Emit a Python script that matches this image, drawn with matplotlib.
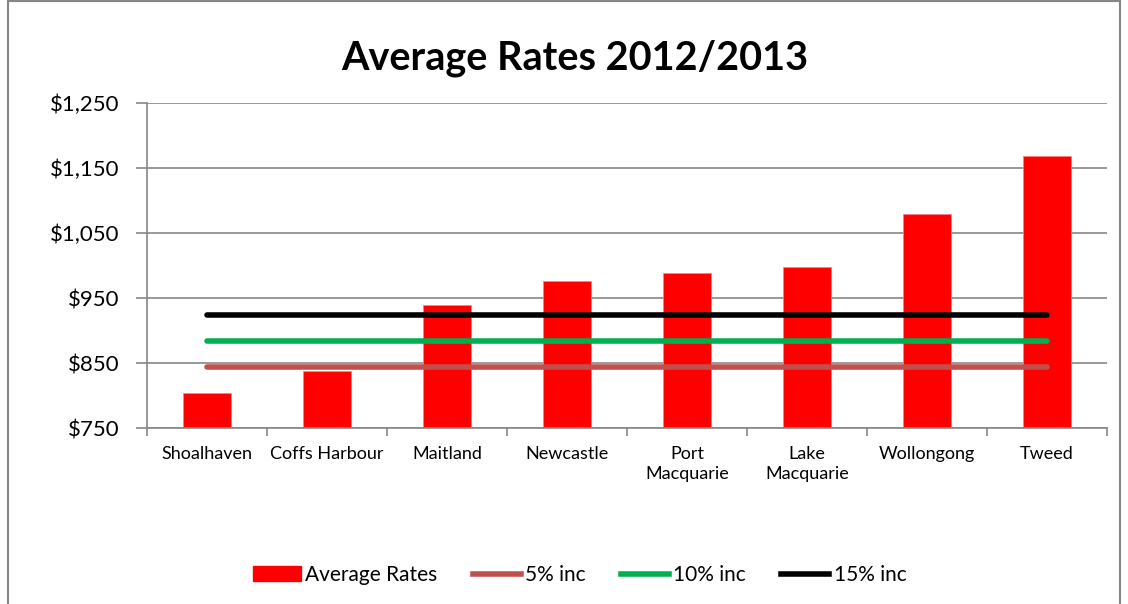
import numpy as np
import matplotlib.pyplot as plt
from matplotlib.patches import Rectangle, Patch
from matplotlib.lines import Line2D
from matplotlib.ticker import FuncFormatter, FixedLocator

# Council average rates for 2012/2013
councils = ['Shoalhaven', 'Coffs Harbour', 'Maitland', 'Newcastle',
            'Port\nMacquarie', 'Lake\nMacquarie', 'Wollongong', 'Tweed']
avg_rates = [804, 838, 939, 976, 988, 997, 1079, 1168]

# Increase levels drawn across all councils
inc_5 = [844] * 8
inc_10 = [884] * 8
inc_15 = [924] * 8

y_ticks = [750, 850, 950, 1050, 1150, 1250]

plt.rcParams['font.family'] = ['Lato', 'DejaVu Sans']
grid_col = '#868686'

fig = plt.figure(figsize=(11.28, 6.04), dpi=100)
ax = fig.add_axes([0.1303, 0.2909, 0.851, 0.5391])

x = np.arange(len(councils))
ax.bar(x, np.array(avg_rates) - 750, bottom=750, width=0.4, color='#ff0000',
       edgecolor='#ff8080', linewidth=0.6, zorder=2)
ax.plot(x, inc_5, color='#c0504d', linewidth=4, solid_capstyle='round', zorder=3)
ax.plot(x, inc_10, color='#00b050', linewidth=4, solid_capstyle='round', zorder=3)
ax.plot(x, inc_15, color='#000000', linewidth=4, solid_capstyle='round', zorder=3)

ax.set_xlim(-0.5, len(councils) - 0.5)
ax.set_ylim(750, 1250)
ax.set_yticks(y_ticks)
ax.yaxis.set_major_formatter(FuncFormatter(lambda v, p: f'${v:,.0f}'))
ax.yaxis.grid(True, color=grid_col, linewidth=1.2, zorder=0)
ax.set_axisbelow(True)

ax.set_xticks(x)
ax.set_xticklabels(councils, fontsize=13, linespacing=1.25)
ax.xaxis.set_minor_locator(FixedLocator(np.arange(-0.5, len(councils), 1.0)))
ax.tick_params(axis='x', which='major', length=0, pad=13, colors='#000000')
ax.tick_params(axis='x', which='minor', length=6, color=grid_col, width=1.2)
ax.tick_params(axis='y', length=8, color=grid_col, width=1.2, labelsize=16, pad=12)
for lbl in ax.get_xticklabels():
    lbl.set_verticalalignment('top')

for side in ['top', 'right']:
    ax.spines[side].set_visible(False)
for side in ['left', 'bottom']:
    ax.spines[side].set_color(grid_col)
    ax.spines[side].set_linewidth(1.2)

fig.text(0.51, 0.904, 'Average Rates 2012/2013', ha='center', va='center',
         fontsize=28.5, fontweight='bold')

handles = [
    Patch(facecolor='#ff0000', edgecolor='#ff0000', label='Average Rates'),
    Line2D([0], [0], color='#c0504d', linewidth=4, label='5% inc'),
    Line2D([0], [0], color='#00b050', linewidth=4, label='10% inc'),
    Line2D([0], [0], color='#000000', linewidth=4, label='15% inc'),
]
fig.legend(handles=handles, loc='center', bbox_to_anchor=(0.514, 0.048), ncol=4,
           frameon=False, fontsize=15, handlelength=2.3, handletextpad=0.2,
           columnspacing=1.7)

# Chart area border
fig.patches.append(Rectangle((8 / 1128, -0.1), 1112 / 1128, 1.098,
                             transform=fig.transFigure, fill=False,
                             edgecolor='#868686', linewidth=1.5))

fig.savefig('out.png', dpi=100)
